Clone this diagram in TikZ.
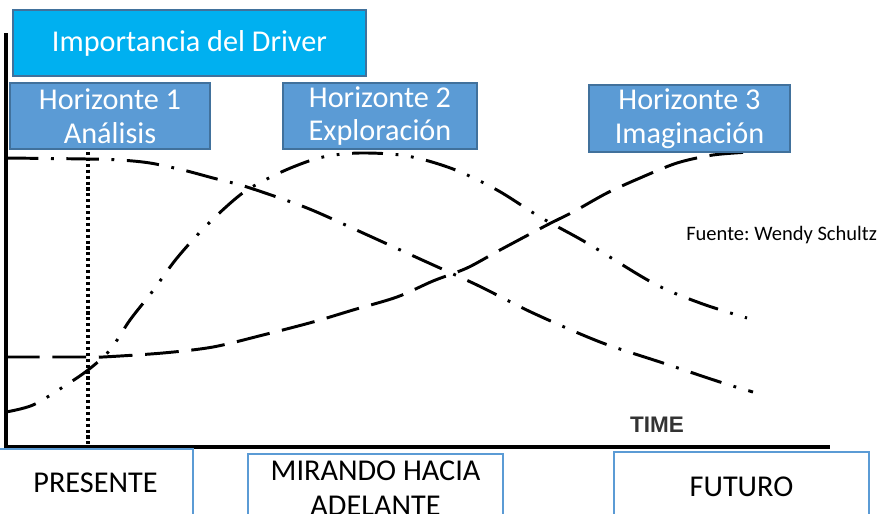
\documentclass[tikz,border=0pt]{standalone}
\usepackage{fontspec}
\setmainfont{Carlito}
\newfontfamily\timefont{Liberation Sans}
\usetikzlibrary{positioning}
\frenchspacing

\definecolor{drivercyan}{HTML}{00B0F0}
\definecolor{hblue}{HTML}{5B9BD5}
\definecolor{hborder}{HTML}{41719C}

\begin{document}
\begin{tikzpicture}[x=0.025cm, y=-0.025cm,
    titlebox/.style={rectangle, draw=hborder, line width=1.2pt, fill=drivercyan, text=white, inner sep=0pt, font=\fontsize{21.5}{24}\selectfont},
    hbox/.style={rectangle, draw=hborder, line width=1.2pt, fill=hblue, text=white, inner sep=0pt, align=center, minimum height=1.65cm, font=\fontsize{21.5}{24}\selectfont},
    periodbox/.style={rectangle, draw=hblue, line width=1.3pt, fill=white, inner sep=0pt, align=center, font=\fontsize{21.5}{25}\selectfont},
    axisline/.style={line width=2.2pt, black},
    dashedline/.style={line width=2.1pt, dash pattern=on 24pt off 9pt},
    dashdot/.style={line width=2.1pt, dash pattern=on 23pt off 9pt on 2pt off 9pt},
    dashdotdot/.style={line width=2.1pt, dash pattern=on 22pt off 9pt on 2pt off 9pt on 2pt off 9pt}]
            \useasboundingbox (0,0) rectangle (894,513);
            \clip (0,0) rectangle (894,513);

            % Draw the axes
            \coordinate (top) at (6,33);
            \coordinate (origin) at (6,447);
            \coordinate (right) at (830,447);
            \draw[axisline] (top) -- (origin) -- (right);

            % Draw the present marker
            \coordinate (now) at (88,152);
            \coordinate (nowbase) at (88,447);
            \draw[line width=2.4pt, dash pattern=on 2.2pt off 2pt] (now) -- (nowbase);

            % Draw the three horizon curves
            \draw[dashdot] plot[smooth, tension=0.5] coordinates {(6,158) (87,159) (120,160) (150,163) (183,170) (213,178) (247,187) (307,208) (363,233) (420,259) (477,285) (533,313) (600,342) (663,363) (723,383) (753,392)};
            \draw[dashdotdot] plot[smooth, tension=0.55] coordinates {(6,412) (33,405) (63,387) (88,370) (110,350) (130,320) (152,292) (177,258) (207,225) (240,195) (265,180) (293,167) (323,157) (360,153) (407,156) (453,169) (497,190) (540,217) (587,243) (653,283) (700,303) (747,318)};
            \draw[dashedline] plot[smooth, tension=0.5] coordinates {(6,357) (88,357) (103,357) (163,353) (213,347) (263,335) (313,322) (353,310) (397,297) (433,281) (467,268) (500,250) (547,225) (573,212) (607,193) (640,178) (677,163) (713,155) (750,152)};

            % Draw the labels
            \node[titlebox, minimum width=8.825cm, minimum height=1.65cm] (driver) at (189.5,43) {Importancia del Driver};
            \node[hbox, minimum width=5cm] (h1) at (110,116) {Horizonte 1\\Análisis};
            \node[hbox, minimum width=4.85cm] (h2) at (380,116) {Horizonte 2\\Exploración};
            \node[hbox, minimum width=5.025cm, minimum height=1.675cm] (h3) at (689.5,118.5) {Horizonte 3\\Imaginación};
            \node[anchor=base west, inner sep=0pt, font=\fontsize{14.6}{17}\selectfont] (source) at (686,240) {Fuente: Wendy Schultz};
            \node[inner sep=0pt, text=black!80, font=\timefont\bfseries\fontsize{16}{18}\selectfont] (time) at (657,425) {TIME};

            % Draw the periods below the axis
            \node[periodbox, minimum width=4.875cm, minimum height=1.7cm] (presente) at (95.5,483) {PRESENTE};
            \node[periodbox, minimum width=6.375cm, minimum height=1.7cm] (mirando) at (375.5,488) {MIRANDO HACIA\\ADELANTE};
            \node[periodbox, minimum width=6.375cm, minimum height=1.75cm] (futuro) at (741.5,487) {FUTURO};
        \end{tikzpicture}
\end{document}
